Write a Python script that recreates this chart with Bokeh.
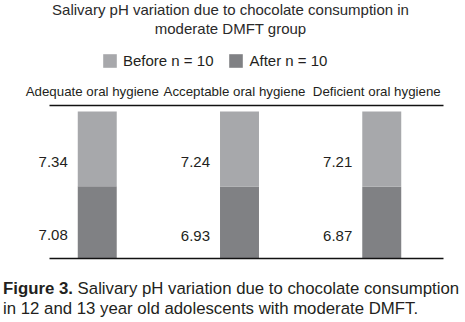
from bokeh.plotting import figure
from bokeh.layouts import column
from bokeh.models import (ColumnDataSource, Range1d, FixedTicker, Div,
                          LabelSet, Legend, LegendItem)
from bokeh.core.properties import value
from bokeh.embed import file_html
from bokeh.resources import INLINE

# ---- data ----
categories = ["Adequate oral hygiene", "Acceptable oral hygiene", "Deficient oral hygiene"]
before = [7.34, 7.24, 7.21]
after = [7.08, 6.93, 6.87]
series = ["Before n = 10", "After n = 10"]
title_lines = ["Salivary pH variation due to chocolate consumption in", "moderate DMFT group"]
caption_bold = "Figure 3."
caption_lines = ["Salivary pH variation due to chocolate consumption",
                 "in 12 and 13 year old adolescents with moderate DMFT."]

FONT = "Liberation Sans"
TXT = "#231f20"
LIGHT = "#a7a8ab"
DARK = "#808184"
BAR_W = 0.274
W = 465

# pixel layout
X0_PX, STEP_PX = 96.75, 142.25   # first bar centre, group pitch
LINE_L, LINE_R = 49, 443         # extent of the rules
TITLE_H, FIG_H = 40, 230
CAP_H = 322 - TITLE_H - FIG_H
BOTTOM_B = 12
FRAME_H = FIG_H - BOTTOM_B       # frame spans page y 40..258
BAR_PX = 147                     # full bar height in pixels
RULE_GAP = 6                     # gap between bar top and the top rule

xs = list(range(len(categories)))
tot = [b + a for b, a in zip(before, after)]
after_share = [a / t for a, t in zip(after, tot)]
before_share = [b / t for b, t in zip(before, tot)]

src = ColumnDataSource(dict(x=xs, after_share=after_share, before_share=before_share))

title_div = Div(text="<br>".join(title_lines), width=W, height=TITLE_H, margin=0,
                styles={"font-family": FONT, "font-size": "15px", "line-height": "19px",
                        "color": "#2a2a2a", "text-align": "center", "width": f"{W - 4}px",
                        "white-space": "nowrap"})

p = figure(width=W, height=FIG_H, output_backend="svg", toolbar_location=None,
           x_range=Range1d(-X0_PX / STEP_PX, (W - X0_PX) / STEP_PX),
           y_range=Range1d(0, FRAME_H / BAR_PX),
           y_axis_location=None,
           min_border_left=0, min_border_right=0, min_border_top=0,
           min_border_bottom=BOTTOM_B)
p.margin = 0
p.outline_line_color = None
p.xgrid.grid_line_color = None
p.ygrid.grid_line_color = None
p.background_fill_color = "white"
p.border_fill_color = "white"

rs = p.vbar_stack(["after_share", "before_share"], x="x", width=BAR_W,
                  color=[DARK, LIGHT], line_color=None, source=src)
r_after, r_before = rs

bounds = ((LINE_L - X0_PX) / STEP_PX, (LINE_R - X0_PX) / STEP_PX)

# bottom baseline axis
bx = p.xaxis[0]
bx.ticker = FixedTicker(ticks=[])
bx.bounds = bounds
bx.major_tick_line_color = None
bx.minor_tick_line_color = None
bx.major_label_text_color = None
bx.axis_line_color = "#111111"
bx.axis_line_width = 1.5

# top rule with category labels
rule_y = (BAR_PX + RULE_GAP) / BAR_PX
p.segment(x0=[bounds[0]], x1=[bounds[1]], y0=[rule_y], y1=[rule_y],
          line_color="#111111", line_width=1.5)
csrc = ColumnDataSource(dict(x=xs, y=[rule_y] * len(xs), t=categories))
p.add_layout(LabelSet(x="x", y="y", text="t", source=csrc, x_offset=-5, y_offset=14,
                      text_align="center", text_baseline="middle", text_font=value(FONT),
                      text_font_size="13.3px", text_color=TXT))

# value labels
lx, ly, lt = [], [], []
for i in xs:
    lx.append(i - BAR_W / 2); ly.append(after_share[i] + before_share[i] / 2); lt.append(f"{before[i]:.2f}")
    lx.append(i - BAR_W / 2); ly.append(after_share[i] / 2); lt.append(f"{after[i]:.2f}")
lsrc = ColumnDataSource(dict(x=lx, y=ly, t=lt))
p.add_layout(LabelSet(x="x", y="y", text="t", source=lsrc, x_offset=-10, y_offset=-13,
                      text_align="right", text_baseline="middle", text_font=value(FONT),
                      text_font_size="15px", text_color=TXT))

# legend
legend = Legend(items=[LegendItem(label=series[0], renderers=[r_before]),
                       LegendItem(label=series[1], renderers=[r_after])],
                orientation="horizontal", location=(101, FRAME_H - 69 + TITLE_H),
                border_line_color=None, background_fill_alpha=0, padding=0, margin=0,
                spacing=14, label_standoff=5, glyph_width=17, glyph_height=17,
                label_height=17, label_text_font=FONT, label_text_font_size="15px",
                label_text_color=TXT)
p.add_layout(legend, "center")

caption_div = Div(text=f"<b>{caption_bold}</b> {caption_lines[0]}<br>{caption_lines[1]}",
                  width=W, height=CAP_H, margin=0,
                  styles={"font-family": FONT, "font-size": "16.8px", "line-height": "20px",
                          "color": TXT, "padding-top": "9px", "padding-left": "3px",
                          "white-space": "nowrap"})

layout = column(title_div, p, caption_div, spacing=0)
layout.margin = 0

open("out.html", "w").write(file_html(layout, INLINE))
